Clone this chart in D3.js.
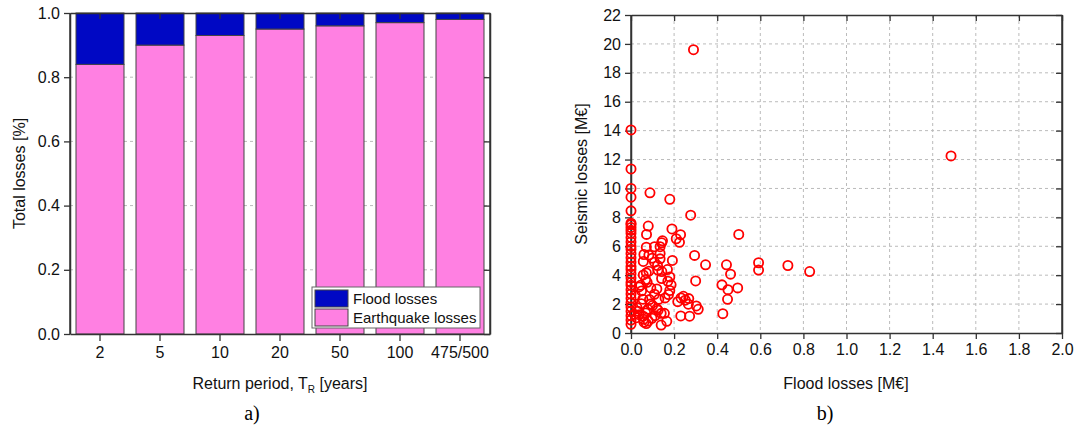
<!DOCTYPE html>
<html>
<head>
<meta charset="utf-8">
<script src="https://cdn.jsdelivr.net/npm/d3@7"></script>
<style>
  body { margin: 0; background: #fff; }
  svg { display: block; font-family: "Liberation Sans", Arial, sans-serif; }
</style>
</head>
<body>
<svg id="chart" width="1079" height="426"></svg>
<script>
// --- data: panel a) ---
const periods = ["2", "5", "10", "20", "50", "100", "475/500"];
const quakeShare = [0.84, 0.90, 0.93, 0.95, 0.96, 0.97, 0.98];
const floodShare = quakeShare.map(v => 1 - v);
const yTicksA = [0, 0.2, 0.4, 0.6, 0.8, 1.0];

// --- data: panel b) flood vs seismic losses [M€] ---
const floodLoss = [
  0.29, 0, 1.485, 0, 0, 0.088, 0, 0.18, 0, 0.277, 0.5, 0.08, 0.072, 0.19, 0.23, 0.21, 0.225,
  0.295, 0.346, 0.443, 0.462, 0.592, 0.592, 0.728, 0.829, 0.3, 0.422, 0.495, 0.45, 0.448,
  0.426, 0.312, 0.303, 0.232, 0.243, 0.217, 0.252, 0.268, 0.231, 0.272, 0.266,
  0, 0, 0, 0, 0, 0, 0, 0, 0, 0, 0, 0, 0, 0, 0, 0, 0, 0, 0, 0, 0, 0, 0, 0, 0, 0, 0,
  0.057, 0.06, 0.071, 0.083, 0.071, 0.057, 0.098, 0.109, 0.135, 0.135, 0.135, 0.146, 0.142,
  0.192, 0.169, 0.123, 0.142, 0.171, 0.186, 0.18, 0.12, 0.075, 0.068, 0.049, 0.037, 0.055,
  0.129, 0.109, 0.086, 0.1, 0.028, 0.038, 0.068, 0.097, 0.071, 0.08, 0.14, 0.14, 0.166,
  0.155, 0.126, 0.057, 0.048, 0.158, 0.092, 0.143, 0.125, 0.109, 0.083, 0.18, 0.174, 0.078,
  0.12, 0.025, 0.058, 0.015, 0.02, 0.032, 0.045, 0.09, 0.112, 0.06
];
const seismicLoss = [
  19.6, 14.05, 12.25, 11.35, 10.0, 9.7, 9.4, 9.25, 8.45, 8.15, 6.82, 7.4, 6.82, 7.2, 6.8, 6.52, 6.27,
  5.37, 4.72, 4.72, 4.07, 4.86, 4.35, 4.67, 4.25, 3.6, 3.33, 3.12, 3.0, 2.33,
  1.34, 1.64, 1.87, 2.43, 2.54, 2.17, 2.27, 2.38, 1.18, 1.16, 1.99,
  0.6, 0.9, 1.2, 1.5, 1.8, 2.1, 2.4, 2.7, 3.0, 3.3, 3.5, 3.8, 4.1, 4.4, 4.6, 4.9, 5.2, 5.5, 5.8,
  6.0, 6.3, 6.6, 6.9, 7.1, 7.3, 7.5, 7.6,
  4.95, 5.43, 5.94, 4.28, 4.16, 4.02, 5.18, 5.97, 5.97, 5.5, 5.13, 6.38, 6.24,
  5.02, 4.39, 4.67, 3.77, 3.58, 3.33, 2.94, 3.05, 3.51, 3.7, 2.91, 3.19, 2.34,
  2.34, 2.68, 2.31, 1.9, 1.76, 1.27, 1.39, 1.02, 0.65, 0.83, 1.36, 0.55, 0.81,
  1.36, 1.57, 1.16, 2.03, 2.43, 3.12, 4.25, 4.35, 4.9, 5.39, 3.88, 2.66, 1.64,
  1.69, 1.06, 0.95, 1.3, 2.6, 1.5, 3.3, 2.0, 1.2, 0.75
];
const xTicksB = d3.range(0, 2.01, 0.2);
const yTicksB = d3.range(0, 22.1, 2);

const svg = d3.select("#chart");
const axisColor = "#333";
const gridColor = "#bbb";
const tickFont = 16;
const titleFont = 16;

function styleAxes(g) {
  g.selectAll("text").attr("fill", "#111").attr("font-size", tickFont)
    .attr("font-family", "Liberation Sans, Arial, sans-serif");
  g.selectAll("line").attr("stroke", axisColor).attr("stroke-width", 1.3);
  g.selectAll(".domain").attr("stroke", axisColor).attr("stroke-width", 1.5);
}

// ================= panel a) =================
const A = { left: 70, right: 490, top: 13, bottom: 334 };
const xA = d3.scaleBand().domain(periods).range([A.left, A.right]).paddingInner(0.2).paddingOuter(0.1);
const yA = d3.scaleLinear().domain([0, 1]).range([A.bottom, A.top]);

const gA = svg.append("g");

// dashed grid (drawn under the bars)
gA.append("g").selectAll("line")
  .data(yTicksA.slice(1, -1))
  .join("line")
  .attr("x1", A.left).attr("x2", A.right)
  .attr("y1", d => yA(d)).attr("y2", d => yA(d))
  .attr("stroke", gridColor).attr("stroke-dasharray", "3,3");

// stacked bars
gA.append("g").selectAll("rect")
  .data(periods)
  .join("rect")
  .attr("x", d => xA(d))
  .attr("width", xA.bandwidth())
  .attr("y", (d, i) => yA(quakeShare[i]))
  .attr("height", (d, i) => yA(0) - yA(quakeShare[i]))
  .attr("fill", "#ff80e2").attr("stroke", "#444").attr("stroke-width", 1);
gA.append("g").selectAll("rect")
  .data(periods)
  .join("rect")
  .attr("x", d => xA(d))
  .attr("width", xA.bandwidth())
  .attr("y", (d, i) => yA(quakeShare[i] + floodShare[i]))
  .attr("height", (d, i) => yA(quakeShare[i]) - yA(quakeShare[i] + floodShare[i]))
  .attr("fill", "#0008c4").attr("stroke", "#444").attr("stroke-width", 1);

// axes
const axA = gA.append("g");
axA.append("g").attr("transform", `translate(0,${A.bottom})`)
  .call(d3.axisBottom(xA).tickSize(7).tickPadding(6).tickSizeOuter(0));
axA.append("g").attr("transform", `translate(0,${A.top})`)
  .call(d3.axisBottom(xA).tickSize(6).tickFormat("").tickSizeOuter(0));
axA.append("g").attr("transform", `translate(${A.left},0)`)
  .call(d3.axisLeft(yA).tickValues(yTicksA).tickFormat(d3.format(".1f")).tickSize(6).tickPadding(4).tickSizeOuter(0));
axA.append("g").attr("transform", `translate(${A.right},0)`)
  .call(d3.axisLeft(yA).tickValues(yTicksA).tickFormat("").tickSize(6).tickSizeOuter(0));
styleAxes(axA);
gA.append("line").attr("x1", A.left).attr("x2", A.left).attr("y1", A.top).attr("y2", A.bottom)
  .attr("stroke", axisColor).attr("stroke-width", 1.5);
gA.append("line").attr("x1", A.right).attr("x2", A.right).attr("y1", A.top).attr("y2", A.bottom)
  .attr("stroke", axisColor).attr("stroke-width", 1.5);

// legend
const leg = gA.append("g").attr("transform", "translate(312,287)");
leg.append("rect").attr("width", 168).attr("height", 41).attr("fill", "#fff")
  .attr("stroke", "#666").attr("stroke-width", 1);
[["Flood losses", "#0008c4"], ["Earthquake losses", "#ff80e2"]].forEach(([name, col], i) => {
  leg.append("rect").attr("x", 3).attr("y", 3 + i * 19).attr("width", 33).attr("height", 17)
    .attr("fill", col).attr("stroke", "#444");
  leg.append("text").attr("x", 41).attr("y", 17 + i * 19).attr("font-size", 15).attr("fill", "#111")
    .text(name);
});

// titles
gA.append("text")
  .attr("transform", `translate(25,${(A.top + A.bottom) / 2}) rotate(-90)`)
  .attr("text-anchor", "middle").attr("font-size", titleFont).attr("fill", "#111")
  .text("Total losses [%]");
const xtA = gA.append("text").attr("x", 280).attr("y", 389)
  .attr("text-anchor", "middle").attr("font-size", titleFont).attr("fill", "#111");
xtA.append("tspan").text("Return period, T");
xtA.append("tspan").attr("font-size", 10).attr("dy", 4).text("R");
xtA.append("tspan").attr("dy", -4).text(" [years]");
gA.append("text").attr("x", 252).attr("y", 420).attr("text-anchor", "middle")
  .attr("font-size", 20).attr("font-family", "Liberation Serif, Times New Roman, serif")
  .text("a)");

// ================= panel b) =================
const B = { left: 631, right: 1062, top: 15, bottom: 333 };
const xB = d3.scaleLinear().domain([0, 2]).range([B.left, B.right]);
const yB = d3.scaleLinear().domain([0, 22]).range([B.bottom, B.top]);
const gB = svg.append("g");

gB.append("g").selectAll("line")
  .data(xTicksB.slice(1, -1))
  .join("line")
  .attr("x1", d => xB(d)).attr("x2", d => xB(d))
  .attr("y1", B.top).attr("y2", B.bottom)
  .attr("stroke", gridColor).attr("stroke-dasharray", "3,3");
gB.append("g").selectAll("line")
  .data(yTicksB.slice(1, -1))
  .join("line")
  .attr("x1", B.left).attr("x2", B.right)
  .attr("y1", d => yB(d)).attr("y2", d => yB(d))
  .attr("stroke", gridColor).attr("stroke-dasharray", "3,3");

const axB = gB.append("g");
axB.append("g").attr("transform", `translate(0,${B.bottom})`)
  .call(d3.axisBottom(xB).tickValues(xTicksB).tickFormat(d3.format(".1f")).tickSize(6).tickPadding(5).tickSizeOuter(0));
axB.append("g").attr("transform", `translate(0,${B.top})`)
  .call(d3.axisBottom(xB).tickValues(xTicksB).tickFormat("").tickSize(6).tickSizeOuter(0));
axB.append("g").attr("transform", `translate(${B.left},0)`)
  .call(d3.axisLeft(yB).tickValues(yTicksB).tickFormat(d3.format("d")).tickSize(6).tickPadding(4).tickSizeOuter(0));
axB.append("g").attr("transform", `translate(${B.right},0)`)
  .call(d3.axisLeft(yB).tickValues(yTicksB).tickFormat("").tickSize(6).tickSizeOuter(0));
styleAxes(axB);
gB.append("line").attr("x1", B.left).attr("x2", B.left).attr("y1", B.top).attr("y2", B.bottom)
  .attr("stroke", axisColor).attr("stroke-width", 1.5);
gB.append("line").attr("x1", B.right).attr("x2", B.right).attr("y1", B.top).attr("y2", B.bottom)
  .attr("stroke", axisColor).attr("stroke-width", 1.5);

// points
gB.append("g").selectAll("circle")
  .data(d3.range(floodLoss.length))
  .join("circle")
  .attr("cx", i => xB(floodLoss[i]))
  .attr("cy", i => yB(seismicLoss[i]))
  .attr("r", 4.6)
  .attr("fill", "none").attr("stroke", "#f00").attr("stroke-width", 1.8);

gB.append("text")
  .attr("transform", `translate(587,${(B.top + B.bottom) / 2}) rotate(-90)`)
  .attr("text-anchor", "middle").attr("font-size", titleFont).attr("fill", "#111")
  .text("Seismic losses [M€]");
gB.append("text").attr("x", 846).attr("y", 389).attr("text-anchor", "middle")
  .attr("font-size", titleFont).attr("fill", "#111").text("Flood losses [M€]");
gB.append("text").attr("x", 825).attr("y", 420).attr("text-anchor", "middle")
  .attr("font-size", 20).attr("font-family", "Liberation Serif, Times New Roman, serif")
  .text("b)");
</script>
</body>
</html>
